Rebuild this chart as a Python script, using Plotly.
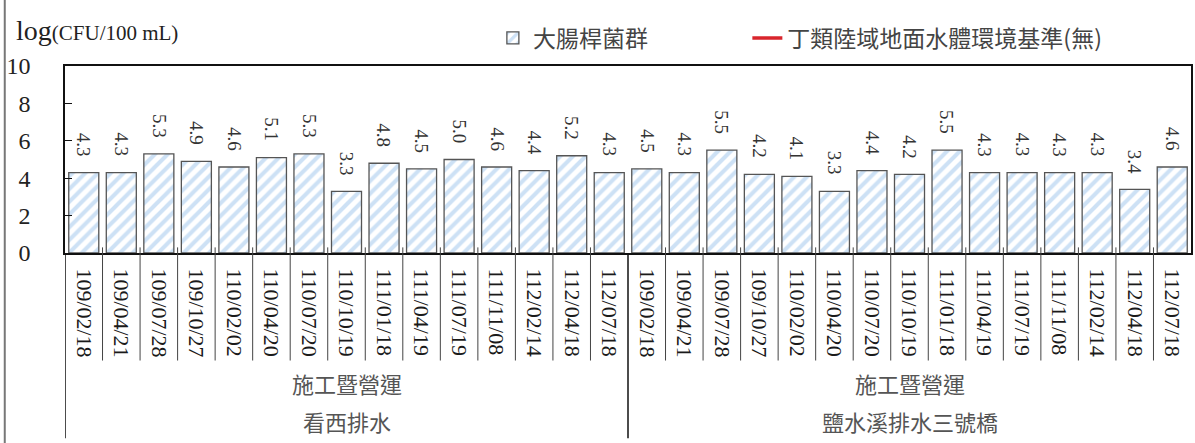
import plotly.graph_objects as go

# ---- data ----
dates = ["109/02/18", "109/04/21", "109/07/28", "109/10/27", "110/02/02",
         "110/04/20", "110/07/20", "110/10/19", "111/01/18", "111/04/19",
         "111/07/19", "111/11/08", "112/02/14", "112/04/18", "112/07/18"]
sites = ["看西排水", "鹽水溪排水三號橋"]
phase = "施工暨營運"
values_site1 = [4.3, 4.3, 5.3, 4.9, 4.6, 5.1, 5.3, 3.3, 4.8, 4.5, 5.0, 4.6, 4.4, 5.2, 4.3]
values_site2 = [4.5, 4.3, 5.5, 4.2, 4.1, 3.3, 4.4, 4.2, 5.5, 4.3, 4.3, 4.3, 4.3, 3.4, 4.6]
series_name = "大腸桿菌群"
standard_name = "丁類陸域地面水體環境基準(無)"
y_ticks = [0, 2, 4, 6, 8, 10]

values = values_site1 + values_site2
labels = dates + dates
xs = list(range(len(values)))
n1 = len(values_site1)

SERIF = "Liberation Serif"
CJK = "Noto Sans CJK TC"

fig = go.Figure()
fig.add_trace(go.Bar(
    x=xs, y=values, name=series_name, legend="legend",
    marker=dict(color="white",
                line=dict(color="#555555", width=1.3),
                pattern=dict(shape="/", fgcolor="#9cc3ec", bgcolor="white",
                             size=9, solidity=0.45)),
    showlegend=True,
))
fig.add_trace(go.Scatter(
    x=[None], y=[None], mode="lines", name=standard_name, legend="legend2",
    line=dict(color="#d9252c", width=3.5), showlegend=True,
))

# value labels
for x, v in zip(xs, values):
    fig.add_annotation(x=x, y=v, text=f"{v:.1f}", textangle=90, showarrow=False,
                       xref="x", yref="y", yanchor="bottom", yshift=14,
                       font=dict(family=SERIF, size=19, color="#333333"))

shapes = []
# category separators
for i in range(1, len(values)):
    if i == n1:
        continue
    shapes.append(dict(type="line", xref="x", yref="paper", x0=i - 0.5, x1=i - 0.5,
                       y0=0.03, y1=-0.575, line=dict(color="#444444", width=1)))
# group separators
for i in [0, n1]:
    shapes.append(dict(type="line", xref="x", yref="paper", x0=i - 0.5, x1=i - 0.5,
                       y0=0, y1=-0.99, line=dict(color="#111111", width=1.5)))
# left image border line
shapes.append(dict(type="line", xref="paper", yref="paper", x0=-0.0535, x1=-0.0535,
                   y0=-1.02, y1=1.36, line=dict(color="#777777", width=2)))
fig.update_layout(shapes=shapes)

# group labels
for g, site in enumerate(sites):
    cx = g * n1 + (n1 - 1) / 2
    fig.add_annotation(x=cx, y=-0.695, xref="x", yref="paper", text=phase, showarrow=False,
                       xanchor="center", yanchor="middle",
                       font=dict(family=CJK, size=22, color="#555555"))
    fig.add_annotation(x=cx, y=-0.9, xref="x", yref="paper", text=site, showarrow=False,
                       xanchor="center", yanchor="middle",
                       font=dict(family=CJK, size=22, color="#555555"))

# y axis title
fig.add_annotation(x=-0.045, y=1.19, xref="paper", yref="paper", xanchor="left", yanchor="middle",
                   text="log<span style='font-size:21px'>(CFU/100 mL)</span>", showarrow=False,
                   font=dict(family=SERIF, size=28, color="#222222"))

legend_font = dict(family=CJK, size=23, color="#444444")
fig.update_layout(
    width=1195, height=443,
    margin=dict(l=65, r=4, t=66, b=190),
    plot_bgcolor="white", paper_bgcolor="white",
    bargap=0.2,
    legend=dict(orientation="h", x=0.380, y=1.15, xanchor="left", yanchor="middle",
                font=legend_font, bgcolor="rgba(0,0,0,0)"),
    legend2=dict(orientation="h", x=0.606, y=1.15, xanchor="left", yanchor="middle",
                 font=legend_font, bgcolor="rgba(0,0,0,0)"),
    xaxis=dict(range=[-0.5, len(values) - 0.5], tickmode="array", tickvals=xs, ticktext=labels,
               tickangle=90, ticks="", showgrid=False, zeroline=False, automargin=False,
               showline=True, linecolor="#111111", linewidth=2, mirror=True,
               tickfont=dict(family=SERIF, size=22, color="#1a1a1a"), ticklabelstandoff=9),
    yaxis=dict(range=[0, 10], tickmode="array", tickvals=y_ticks, ticks="inside", ticklen=7,
               tickcolor="#111111", showgrid=False, zeroline=False, automargin=False,
               showline=True, linecolor="#111111", linewidth=1.5, mirror=True,
               tickfont=dict(family=SERIF, size=24, color="#222222"), ticklabelstandoff=28),
)

fig.write_html("out.html", config={"displayModeBar": False},
               post_script="document.body.style.margin='0';document.body.style.padding='0';"
                           "document.documentElement.style.overflow='hidden';")
